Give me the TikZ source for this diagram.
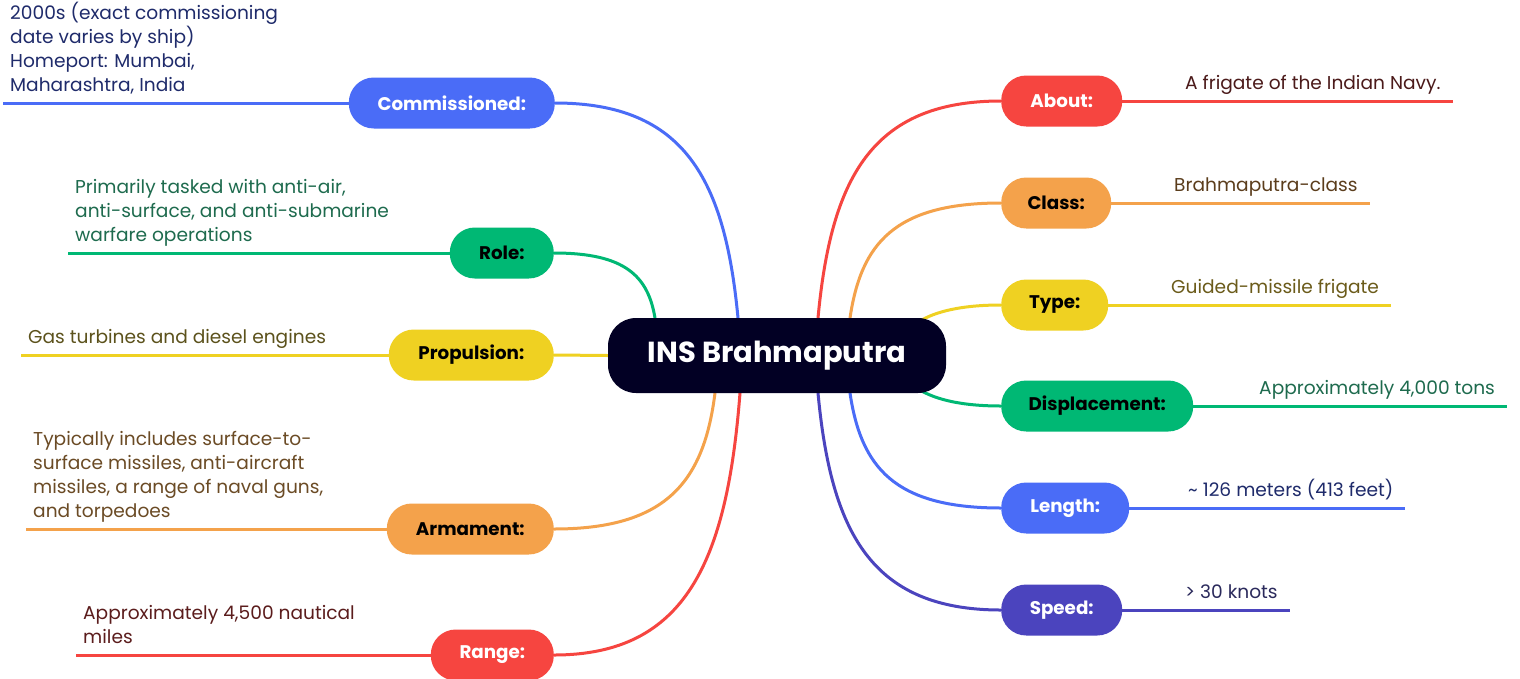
\documentclass[tikz,border=0pt]{standalone}
\usepackage{fontspec}
\setmainfont{Poppins}
\usetikzlibrary{backgrounds}
\definecolor{cRed}{HTML}{F64540}
\definecolor{cOrange}{HTML}{F4A24B}
\definecolor{cYellow}{HTML}{EFD122}
\definecolor{cGreen}{HTML}{00B874}
\definecolor{cBlue}{HTML}{4A6CF7}
\definecolor{cIndigo}{HTML}{4B44BE}
\definecolor{cCenter}{HTML}{020024}
\definecolor{tRed}{HTML}{4B1A1A}
\definecolor{tRange}{HTML}{5B1C1C}
\definecolor{tOrange}{HTML}{6B4B25}
\definecolor{tClass}{HTML}{5B3D1C}
\definecolor{tYellow}{HTML}{6B5B1A}
\definecolor{tProp}{HTML}{5C521C}
\definecolor{tGreen}{HTML}{1E6B4E}
\definecolor{tBlue}{HTML}{1F2B6B}
\definecolor{tIndigo}{HTML}{2B2A5C}
\tikzset{
  pill/.style={rounded corners=25pt, minimum height=51pt, inner xsep=0pt, inner ysep=0pt,
    font=\fontsize{18.3}{21}\selectfont\bfseries},
  rpill/.style={pill, anchor=west},
  lpill/.style={pill, anchor=east},
  leaf/.style={inner sep=0pt, align=left, anchor=south west, font=\fontsize{18.6}{24}\selectfont},
  ln/.style={line width=3pt},
}
\begin{document}
\begin{tikzpicture}[x=1pt,y=-1pt]
\useasboundingbox (0,0) rectangle (1520,678);
% center
\node[rounded corners=28pt, fill=cCenter, text=white, minimum width=338pt, minimum height=75pt,
  font=\fontsize{29}{34}\selectfont\bfseries] (c) at (777,355.5) {INS Brahmaputra};
% right nodes
\node[rpill, fill=cRed, text=white, minimum width=121pt] (nAbout) at (1001,101) {About:};
\node[rpill, fill=cOrange, text=black, minimum width=110pt] (nClass) at (1001,203) {Class:};
\node[rpill, fill=cYellow, text=black, minimum width=107pt] (nType) at (1001,305) {Type:};
\node[rpill, fill=cGreen, text=black, minimum width=192pt] (nDisp) at (1001,406) {Displacement:};
\node[rpill, fill=cBlue, text=white, minimum width=128pt] (nLen) at (1001,508) {Length:};
\node[rpill, fill=cIndigo, text=white, minimum width=121pt] (nSpeed) at (1001,610) {Speed:};
% left nodes
\node[lpill, fill=cBlue, text=white, minimum width=206pt] (nComm) at (555,103) {Commissioned:};
\node[lpill, fill=cGreen, text=black, minimum width=104pt] (nRole) at (554,253) {Role:};
\node[lpill, fill=cYellow, text=black, minimum width=165pt] (nProp) at (554,355) {Propulsion:};
\node[lpill, fill=cOrange, text=black, minimum width=167pt] (nArm) at (554,529) {Armament:};
\node[lpill, fill=cRed, text=white, minimum width=123pt] (nRange) at (554,655) {Range:};
% right texts
\node[leaf, text=tRed] (tAbout) at (1185,97) {A frigate of the Indian Navy.\strut};
\node[leaf, text=tClass] (tClass) at (1174,199) {Brahmaputra-class\strut};
\node[leaf, text=tYellow] (tType) at (1171,301) {Guided-missile frigate\strut};
\node[leaf, text=tGreen] (tDisp) at (1259,402) {Approximately 4,000 tons\strut};
\node[leaf, text=tBlue] (tLen) at (1188,504) {\textasciitilde{} 126 meters (413 feet)\strut};
\node[leaf, text=tIndigo] (tSpeed) at (1185,606) {> 30 knots\strut};
% left texts
\node[leaf, text=tBlue] (tComm) at (10,99) {2000s (exact commissioning\\date varies by ship)\\Homeport: Mumbai,\\Maharashtra, India\strut};
\node[leaf, text=tGreen] (tRole) at (75,249) {Primarily tasked with anti-air,\\anti-surface, and anti-submarine\\warfare operations\strut};
\node[leaf, text=tProp] (tProp) at (28,351) {Gas turbines and diesel engines\strut};
\node[leaf, text=tOrange] (tArm) at (33,525) {Typically includes surface-to-\\surface missiles, anti-aircraft\\missiles, a range of naval guns,\\and torpedoes\strut};
\node[leaf, text=tRange] (tRange) at (83,651) {Approximately 4,500 nautical\\miles\strut};
\begin{scope}[on background layer]
\fill[white] (0,0) rectangle (1520,678);
% right curves
\draw[ln, cRed] (818,318) .. controls (831,179) and (871,101) .. (nAbout.west);
\draw[ln, cOrange] (850,318) .. controls (861,244) and (894,203) .. (nClass.west);
\draw[ln, cYellow] (920,321) .. controls (935,312) and (960,305) .. (nType.west);
\draw[ln, cGreen] (920,390) .. controls (935,399) and (960,406) .. (nDisp.west);
\draw[ln, cBlue] (850,393) .. controls (861,467) and (894,508) .. (nLen.west);
\draw[ln, cIndigo] (818,393) .. controls (831,532) and (871,610) .. (nSpeed.west);
% left curves
\draw[ln, cBlue] (738,318) .. controls (725,180) and (685,103) .. (nComm.east);
\draw[ln, cGreen] (655,318) .. controls (648,276) and (625,253) .. (nRole.east);
\draw[ln, cYellow] (c.west) -- (nProp.east);
\draw[ln, cOrange] (715,393) .. controls (704,480) and (668,529) .. (nArm.east);
\draw[ln, cRed] (740,393) .. controls (727,561) and (686,655) .. (nRange.east);
\end{scope}
% leaf lines
\draw[ln, cRed] (nAbout.east) -- ([xshift=12pt]tAbout.east |- nAbout.east);
\draw[ln, cOrange] (nClass.east) -- ([xshift=12pt]tClass.east |- nClass.east);
\draw[ln, cYellow] (nType.east) -- ([xshift=12pt]tType.east |- nType.east);
\draw[ln, cGreen] (nDisp.east) -- ([xshift=12pt]tDisp.east |- nDisp.east);
\draw[ln, cBlue] (nLen.east) -- ([xshift=12pt]tLen.east |- nLen.east);
\draw[ln, cIndigo] (nSpeed.east) -- ([xshift=12pt]tSpeed.east |- nSpeed.east);
\draw[ln, cBlue] (nComm.west) -- ([xshift=-7pt]tComm.west |- nComm.west);
\draw[ln, cGreen] (nRole.west) -- ([xshift=-7pt]tRole.west |- nRole.west);
\draw[ln, cYellow] (nProp.west) -- ([xshift=-7pt]tProp.west |- nProp.west);
\draw[ln, cOrange] (nArm.west) -- ([xshift=-7pt]tArm.west |- nArm.west);
\draw[ln, cRed] (nRange.west) -- ([xshift=-7pt]tRange.west |- nRange.west);
\end{tikzpicture}
\end{document}
